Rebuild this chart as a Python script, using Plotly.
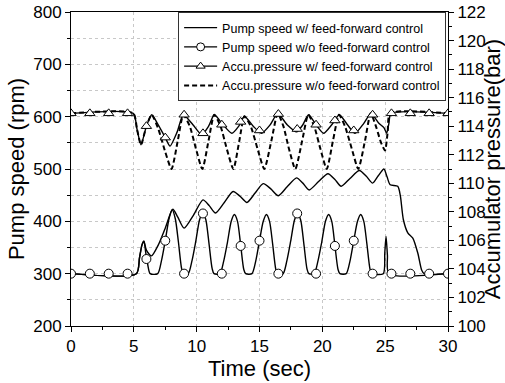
import plotly.graph_objects as go

# ---------------- data ----------------
# Pump speed with feed-forward control (rpm)
t_pump_ff = [0, 5.2, 5.45, 5.65, 5.8, 6.0, 6.4, 6.95, 7.5, 8.1, 8.5, 9.0, 9.75, 10.5, 11.0,
             11.5, 12.2, 12.9, 13.45, 14.0, 14.65, 15.3, 15.9, 16.5, 17.2, 17.95, 18.45,
             18.95, 19.7, 20.45, 21.0, 21.5, 22.2, 22.95, 23.5, 24.0, 24.45, 24.9, 25.15,
             25.4, 26.0, 26.2, 26.45, 26.8, 27.2, 27.6, 27.9, 28.1, 30]
pump_ff = [300, 300, 330, 355, 362, 345, 334, 355, 387, 423, 408, 387, 412, 441, 430,
           416, 436, 457, 448, 436, 454, 472, 462, 449, 466, 483, 473,
           460, 476, 491, 480, 467, 482, 497, 486, 473, 487, 500, 485,
           470, 467, 450, 403, 378, 368, 339, 307, 300, 300]

# Pump speed without feed-forward control (rpm)
t_pump_noff = [0, 5.2, 5.45, 5.65, 5.8, 5.95, 6.1, 6.3,
               6.9, 7.2, 7.5, 7.8, 8.05, 8.3, 8.55, 8.8, 8.95,
               9.33, 9.63, 9.93, 10.23, 10.48, 10.73, 10.98, 11.23, 11.38,
               11.85, 12.15, 12.45, 12.75, 13.0, 13.25, 13.5, 13.75, 13.9,
               14.4, 14.7, 15.0, 15.3, 15.55, 15.8, 16.05, 16.3, 16.45,
               16.88, 17.18, 17.48, 17.78, 18.03, 18.28, 18.53, 18.78, 18.93,
               19.35, 19.65, 19.95, 20.25, 20.5, 20.75, 21.0, 21.25, 21.4,
               21.9, 22.2, 22.5, 22.8, 23.05, 23.3, 23.55, 23.8, 23.95,
               24.85, 24.97, 25.07, 25.18, 25.3, 30]
pump_noff = [300, 300, 330, 355, 362, 340, 318, 300,
             300, 325, 363, 405, 422, 405, 360, 310, 300,
             300, 325, 362, 403, 417, 403, 358, 310, 300,
             300, 324, 360, 400, 413, 400, 355, 308, 300,
             300, 324, 363, 400, 413, 400, 356, 308, 300,
             300, 325, 362, 402, 415, 402, 357, 309, 300,
             300, 324, 360, 400, 413, 400, 354, 308, 300,
             300, 324, 363, 400, 413, 400, 356, 308, 300,
             300, 340, 371, 335, 300, 300]

# Accumulator pressure with feed-forward control (bar)
t_pres_ff = [0, 4.95, 5.25, 5.57, 6.0, 6.42, 7.0, 7.5, 7.88, 8.45, 8.94, 9.7, 10.4, 10.95,
             11.4, 12.1, 12.8, 13.35, 13.8, 14.5, 15.15, 15.85, 16.45, 17.2, 17.95, 18.45,
             18.9, 19.5, 20.1, 20.75, 21.35, 22.0, 22.6, 23.3, 23.87, 24.5, 24.9, 25.12,
             25.3, 25.46, 30]
pres_ff = [114.9, 114.9, 113.8, 112.7, 114.0, 114.8, 114.0, 113.2, 112.6, 113.6, 114.8, 114.1,
           113.4, 114.0, 114.8, 114.1, 113.5, 114.0, 114.7, 114.0, 113.5, 114.1, 114.9, 114.1,
           113.6, 114.1, 114.8, 114.1, 113.5, 114.1, 114.8, 114.1, 113.5, 114.2, 114.9, 114.2,
           113.9, 113.5, 114.2, 114.9, 114.9]

# Accumulator pressure without feed-forward control (bar)
t_pres_noff = [0, 4.95, 5.25, 5.57, 6.0, 6.42, 6.95, 7.5, 8.0, 8.5, 8.94, 9.45, 9.95, 10.45,
               10.95, 11.4, 11.9, 12.4, 12.92, 13.4, 13.8, 14.3, 14.85, 15.38, 15.95, 16.45,
               16.9, 17.35, 17.85, 18.4, 18.88, 19.35, 19.85, 20.35, 20.85, 21.33, 21.8,
               22.35, 22.86, 23.4, 23.85, 24.3, 24.65, 24.99, 25.2, 25.4, 30]
pres_noff = [114.9, 114.9, 113.8, 112.7, 114.0, 114.8, 113.8, 112.2, 111.0, 113.0, 114.8, 114.0,
             112.4, 111.0, 113.0, 114.8, 114.0, 112.4, 111.0, 113.0, 114.7, 114.0, 112.4, 111.0,
             113.0, 114.9, 114.0, 112.4, 111.0, 113.0, 114.8, 114.0, 112.4, 111.0, 113.0, 114.8,
             114.0, 112.4, 111.0, 113.0, 114.9, 113.9, 112.9, 112.3, 113.6, 114.9, 114.9]

# symbol positions (every 1.5 s)
t_symbols = [0, 1.5, 3, 4.5, 6, 7.5, 9, 10.5, 12, 13.5, 15, 16.5, 18, 19.5, 21, 22.5, 24,
             25.5, 27, 28.5, 30]
circle_vals = [300, 300, 300, 300, 328, 363, 300, 415, 300, 353, 363, 300, 415, 300, 353, 363,
               300, 300, 300, 300, 300]
triangle_vals = [114.9, 114.9, 114.9, 114.9, 114.0, 113.2, 114.8, 113.5, 114.1, 114.3, 113.7,
                 114.85, 113.8, 114.1, 114.4, 113.7, 114.8, 114.9, 114.9, 114.9, 114.9]

legend_names = ["Pump speed w/ feed-forward control",
                "Pump speed w/o feed-forward control",
                "Accu.pressure w/ feed-forward control",
                "Accu.pressure w/o feed-forward control"]

FONT = "Liberation Sans, Arial, sans-serif"
# ---------------- figure ----------------
fig = go.Figure()
lw = 1.4
fig.add_trace(go.Scatter(x=t_pump_ff, y=pump_ff, mode="lines", showlegend=False, hoverinfo="skip",
                         line=dict(color="black", width=lw, shape="spline", smoothing=0.7)))
fig.add_trace(go.Scatter(x=t_pump_noff, y=pump_noff, mode="lines", showlegend=False, hoverinfo="skip",
                         line=dict(color="black", width=lw, shape="spline", smoothing=0.7)))
fig.add_trace(go.Scatter(x=t_pres_noff, y=pres_noff, yaxis="y2", mode="lines", showlegend=False,
                         hoverinfo="skip",
                         line=dict(color="black", width=2, dash="5px,3px", shape="spline", smoothing=0.6)))
fig.add_trace(go.Scatter(x=t_pres_ff, y=pres_ff, yaxis="y2", mode="lines", showlegend=False,
                         hoverinfo="skip",
                         line=dict(color="black", width=lw, shape="spline", smoothing=0.6)))
fig.add_trace(go.Scatter(x=t_symbols, y=circle_vals, mode="markers", showlegend=False, hoverinfo="skip",
                         marker=dict(symbol="circle", size=9, color="white",
                                     line=dict(color="black", width=1))))
fig.add_trace(go.Scatter(x=t_symbols, y=triangle_vals, yaxis="y2", mode="markers", showlegend=False,
                         hoverinfo="skip",
                         marker=dict(symbol="triangle-up", size=9, color="white",
                                     line=dict(color="black", width=1))))

# legend entries
fig.add_trace(go.Scatter(x=[None], y=[None], mode="lines", name=legend_names[0],
                         line=dict(color="black", width=lw)))
fig.add_trace(go.Scatter(x=[None], y=[None], mode="lines+markers", name=legend_names[1],
                         line=dict(color="black", width=lw),
                         marker=dict(symbol="circle", size=8, color="white",
                                     line=dict(color="black", width=1))))
fig.add_trace(go.Scatter(x=[None], y=[None], mode="lines+markers", name=legend_names[2],
                         line=dict(color="black", width=lw),
                         marker=dict(symbol="triangle-up", size=8, color="white",
                                     line=dict(color="black", width=1))))
fig.add_trace(go.Scatter(x=[None], y=[None], mode="lines", name=legend_names[3],
                         line=dict(color="black", width=2, dash="5px,3px")))

grid = dict(showgrid=True, gridcolor="#c8c8c8", griddash="dot", gridwidth=1)
fig.update_layout(
    width=505, height=383,
    margin=dict(l=71, r=57, t=12, b=57, autoexpand=False),
    paper_bgcolor="white", plot_bgcolor="white",
    font=dict(family=FONT, color="black"),
    showlegend=True,
    legend=dict(x=0.995, xanchor="right", y=1.0, yanchor="top",
                bgcolor="white", bordercolor="#333333", borderwidth=1,
                font=dict(size=12.5, family=FONT), traceorder="normal",
                tracegroupgap=0, itemwidth=33),
    xaxis=dict(range=[0, 30], tick0=0, dtick=5, ticks="outside", ticklen=5, tickcolor="black",
               showline=True, linecolor="black", linewidth=1, mirror=True, zeroline=False,
               automargin=False,
               tickfont=dict(size=17), title=dict(text="Time (sec)", font=dict(size=22), standoff=4),
               minor=dict(dtick=2.5, ticks="outside", ticklen=3, tickcolor="black", showgrid=False),
               **grid),
    yaxis=dict(range=[200, 800], tick0=200, dtick=100, ticks="outside", ticklen=5, tickcolor="black",
               showline=True, linecolor="black", linewidth=1, zeroline=False, automargin=False,
               tickfont=dict(size=17), title=dict(text="Pump speed (rpm)", font=dict(size=22), standoff=2),
               minor=dict(dtick=50, ticks="outside", ticklen=3, tickcolor="black", showgrid=True,
                          gridcolor="#c8c8c8", griddash="dot"),
               **grid),
    yaxis2=dict(range=[100, 122], tick0=100, dtick=2, overlaying="y", side="right",
                ticks="outside", ticklen=5, tickcolor="black", showline=True, linecolor="black",
                linewidth=1, showgrid=False, zeroline=False, automargin=False,
                tickfont=dict(size=17),
                title=dict(text="Accumulator pressure(bar)", font=dict(size=22), standoff=1),
                minor=dict(dtick=1, ticks="outside", ticklen=3, tickcolor="black")),
)

fig.write_html("out.html")
